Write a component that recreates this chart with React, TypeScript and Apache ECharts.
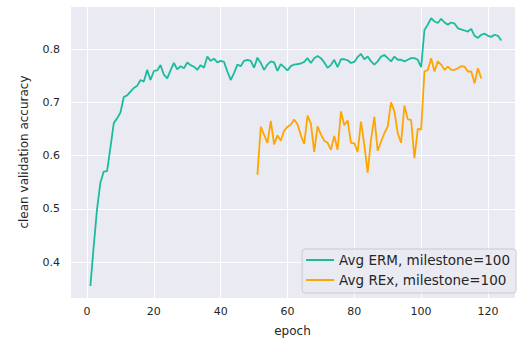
import React, { useEffect, useRef } from "react";
import * as echarts from "echarts";

const ermStartEpoch = 1;
const ermValues = [
  0.355, 0.43, 0.5, 0.549, 0.57, 0.571, 0.615, 0.661, 0.67, 0.681,
  0.71, 0.713, 0.72, 0.727, 0.731, 0.742, 0.739, 0.761, 0.742, 0.759,
  0.76, 0.77, 0.752, 0.745, 0.76, 0.774, 0.762, 0.768, 0.764, 0.775,
  0.77, 0.767, 0.761, 0.77, 0.765, 0.786, 0.778, 0.782, 0.775, 0.778,
  0.776, 0.758, 0.742, 0.755, 0.771, 0.768, 0.778, 0.78, 0.778, 0.765,
  0.784, 0.774, 0.761, 0.771, 0.777, 0.775, 0.759, 0.772, 0.766, 0.76,
  0.768, 0.771, 0.772, 0.773, 0.776, 0.783, 0.774, 0.783, 0.787, 0.783,
  0.775, 0.765, 0.77, 0.78, 0.766, 0.781, 0.781, 0.779, 0.774, 0.776,
  0.785, 0.791, 0.781, 0.786, 0.777, 0.771, 0.777, 0.786, 0.789, 0.783,
  0.777, 0.786, 0.78, 0.78, 0.777, 0.78, 0.783, 0.783, 0.78, 0.766,
  0.836, 0.846, 0.858, 0.852, 0.849, 0.857, 0.85, 0.846, 0.85, 0.848,
  0.839, 0.837, 0.835, 0.833, 0.838, 0.825, 0.821, 0.827, 0.829, 0.825,
  0.823, 0.827, 0.825, 0.816,
];

const rexStartEpoch = 51;
const rexValues = [
  0.564, 0.654, 0.639, 0.624, 0.665, 0.621, 0.638, 0.628, 0.647, 0.654,
  0.658, 0.668, 0.659, 0.638, 0.622, 0.675, 0.66, 0.607, 0.655, 0.64,
  0.628, 0.624, 0.611, 0.637, 0.611, 0.683, 0.657, 0.666, 0.624, 0.623,
  0.607, 0.664, 0.62, 0.568, 0.63, 0.673, 0.609, 0.626, 0.642, 0.655,
  0.7, 0.683, 0.642, 0.624, 0.694, 0.668, 0.667, 0.595, 0.65, 0.649,
  0.758, 0.761, 0.783, 0.758, 0.777, 0.771, 0.761, 0.767, 0.761, 0.761,
  0.764, 0.768, 0.767, 0.758, 0.758, 0.736, 0.764, 0.745,
];

const seriesNames = ["Avg ERM, milestone=100", "Avg REx, milestone=100"];
const seriesColors = ["#1abc9c", "#ffa500"];
const xAxisTitle = "epoch";
const yAxisTitle = "clean validation accuracy";

const FONT = "DejaVu Sans";
const TEXT = "#262626";

export default function App() {
  const ref = useRef<HTMLDivElement>(null);
  useEffect(() => {
    if (!ref.current) return;
    const chart = echarts.init(ref.current, undefined, { renderer: "svg" });
    const erm = ermValues.map((v, i) => [ermStartEpoch + i, v]);
    const rex = rexValues.map((v, i) => [rexStartEpoch + i, v]);
    chart.setOption({
      animation: false,
      backgroundColor: "#ffffff",
      textStyle: { fontFamily: FONT },
      grid: {
        left: 70,
        right: 2,
        top: 6,
        bottom: 51,
        show: true,
        backgroundColor: "#EAEAF2",
        borderWidth: 0,
      },
      xAxis: {
        type: "value",
        min: -5.1,
        max: 128.1,
        splitNumber: 6,
        minInterval: 20,
        maxInterval: 20,
        name: xAxisTitle,
        nameLocation: "middle",
        nameGap: 27,
        nameTextStyle: { fontSize: 12, color: TEXT, fontFamily: FONT },
        axisLine: { show: false },
        axisTick: { show: false },
        axisLabel: {
          fontSize: 11,
          color: TEXT,
          fontFamily: FONT,
          margin: 8,
          formatter: (v: number) =>
            Math.abs(v / 20 - Math.round(v / 20)) < 1e-6 ? String(Math.round(v)) : "",
        },
        splitLine: { show: true, lineStyle: { color: "#ffffff", width: 1 } },
      },
      yAxis: {
        type: "value",
        min: 0.3325,
        max: 0.881,
        splitNumber: 5,
        minInterval: 0.1,
        maxInterval: 0.1,
        name: yAxisTitle,
        nameLocation: "middle",
        nameGap: 40,
        nameTextStyle: { fontSize: 12, color: TEXT, fontFamily: FONT },
        axisLine: { show: false },
        axisTick: { show: false },
        axisLabel: {
          fontSize: 11,
          color: TEXT,
          fontFamily: FONT,
          margin: 10,
          formatter: (v: number) =>
            Math.abs(v * 10 - Math.round(v * 10)) < 1e-6 ? v.toFixed(1) : "",
        },
        splitLine: { show: true, lineStyle: { color: "#ffffff", width: 1 } },
      },
      legend: {
        orient: "vertical",
        right: 2,
        bottom: 56,
        padding: [4, 6, 6, 4],
        itemGap: 6,
        itemWidth: 28,
        itemHeight: 2,
        itemTextGap: 7,
        icon: "rect",
        itemStyle: { borderWidth: 0 },
        textStyle: { fontSize: 13.5, color: TEXT, fontFamily: FONT, lineHeight: 14 },
        backgroundColor: "rgba(234,234,242,0.85)",
        borderColor: "#cccccc",
        borderWidth: 1,
        borderRadius: 3,
        data: seriesNames,
      },
      series: [
        {
          name: seriesNames[0],
          type: "line",
          data: erm,
          symbol: "none",
          lineStyle: { color: seriesColors[0], width: 1.8 },
          itemStyle: { color: seriesColors[0] },
        },
        {
          name: seriesNames[1],
          type: "line",
          data: rex,
          symbol: "none",
          lineStyle: { color: seriesColors[1], width: 1.8 },
          itemStyle: { color: seriesColors[1] },
        },
      ],
    });
    return () => chart.dispose();
  }, []);
  return (
    <div
      ref={ref}
      style={{ position: "absolute", left: 0, top: 0, width: 518, height: 349 }}
    />
  );
}
